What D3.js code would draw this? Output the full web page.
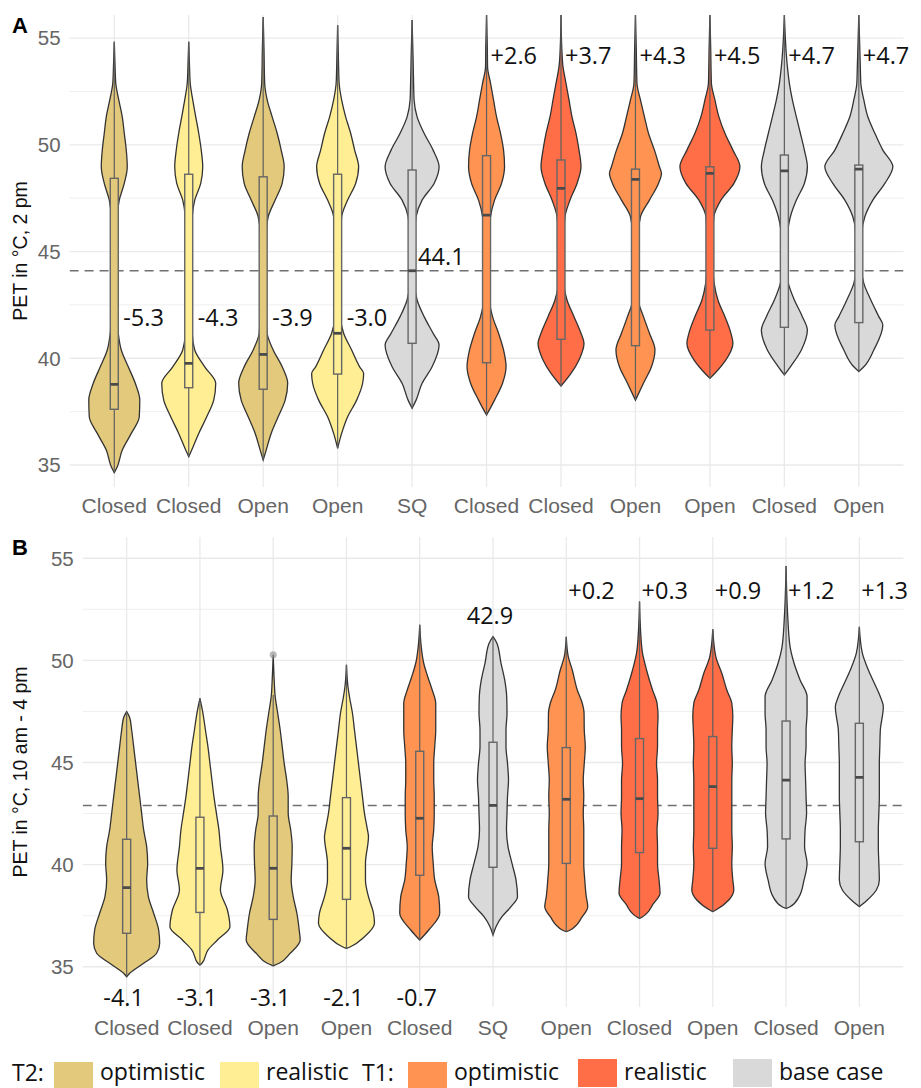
<!DOCTYPE html>
<html>
<head>
<meta charset="utf-8">
<script src="https://cdn.jsdelivr.net/npm/d3@7"></script>
<style>
  body { margin: 0; background: #fff; }
  svg { display: block; }
</style>
</head>
<body>
<div id="chart"></div>
<script>
// fill colour per scenario group
const groupColors = {
  t2opt: "#E3C97B",
  t2real: "#FFEE93",
  t1opt: "#FF9352",
  t1real: "#FF6E47",
  base: "#D9D9D9",
};

const yTicks = [35, 40, 45, 50, 55];
const yMinorTicks = [37.5, 42.5, 47.5, 52.5];

// ---- panel A: PET at 2 pm ----
const aCategories = ["Closed", "Closed", "Open", "Open", "SQ", "Closed", "Closed", "Open", "Open", "Closed", "Open"];
const aGroups = ["t2opt", "t2real", "t2opt", "t2real", "base", "t1opt", "t1real", "t1opt", "t1real", "base", "base"];
const aDiffLabels = ["-5.3", "-4.3", "-3.9", "-3.0", "44.1", "+2.6", "+3.7", "+4.3", "+4.5", "+4.7", "+4.7"];
const aReference = 44.1;
// [min, q1, median, q3, max]
const aBoxes = [
  [34.64, 37.61, 38.78, 48.43, 54.83],
  [35.39, 38.62, 39.76, 48.62, 54.83],
  [35.23, 38.55, 40.18, 48.50, 55.98],
  [35.78, 39.26, 41.17, 48.62, 55.60],
  [37.66, 40.70, 44.10, 48.82, 55.84],
  [37.34, 39.79, 46.71, 49.49, 56.08],
  [38.70, 40.89, 47.96, 49.29, 56.08],
  [38.04, 40.59, 48.38, 48.86, 56.08],
  [39.06, 41.32, 48.66, 48.97, 56.08],
  [39.22, 41.45, 48.78, 49.52, 56.08],
  [39.38, 41.67, 48.86, 49.05, 56.08],
];
// violin profiles: [PET value, relative density]
const aViolins = [
  [[54.83,0],[53.66,0.8],[52.88,1.5],[52.10,4.5],[51.31,8],[50.54,10],[49.75,12],[48.97,13],[48.19,10],[47.41,5],[46.63,3],[45.85,2.5],[44.29,2.5],[42.73,2.5],[41.95,3],[41.17,4],[40.39,7],[39.60,14],[38.83,21],[38.04,25.5],[37.26,25],[36.48,17],[35.70,8],[34.92,3],[34.64,0]],
  [[54.83,0],[53.66,0.8],[52.88,1.5],[52.10,4],[51.31,7],[50.54,10],[49.75,12.5],[48.97,14],[48.19,12],[47.41,6],[46.63,3.5],[45.85,3],[42.73,3],[41.17,3.5],[40.39,6],[39.60,16],[38.83,27],[38.04,25],[37.26,18],[36.48,10],[35.70,3],[35.39,0]],
  [[55.98,0],[54.50,0.8],[52.88,1.5],[52.10,4],[51.31,9],[50.54,14],[49.75,18],[48.97,21],[48.19,19],[47.41,12],[46.63,5],[45.85,3],[42.73,3],[41.95,3],[41.17,4],[40.39,10],[39.60,19],[38.83,24.5],[38.04,22],[37.26,15],[36.48,8],[35.70,3],[35.23,0]],
  [[55.60,0],[54.00,0.8],[52.88,1.5],[52.10,4],[51.31,8],[50.54,13],[49.75,17],[48.97,21],[48.19,18],[47.41,10],[46.63,4],[45.85,3],[42.73,3],[41.95,3],[41.17,6],[40.39,14],[39.60,22],[39.29,26],[38.83,25],[38.04,19],[37.26,10],[36.48,4],[35.78,0]],
  [[55.84,0],[54.00,1],[52.88,1.5],[52.10,2],[51.31,5],[50.54,12],[49.75,21],[48.97,27],[48.19,22],[47.41,10],[46.63,4],[45.85,2.5],[43.50,2.5],[42.73,5],[41.95,12],[41.17,21],[40.62,27],[39.60,20],[38.83,10],[38.04,4],[37.66,0]],
  [[56.08,0],[54.50,0.8],[53.66,1],[52.88,4],[52.10,7],[51.31,10],[50.54,14],[49.75,17],[48.97,18],[48.19,15],[47.41,8],[46.63,4],[45.85,3],[42.73,3],[41.95,6],[41.17,12],[40.39,17],[39.60,19.5],[38.83,16],[38.04,8],[37.34,0]],
  [[56.08,0],[54.50,0.8],[53.66,2],[52.88,5],[52.10,8],[51.31,11],[50.54,15],[49.75,18],[48.97,20],[48.19,16],[47.41,9],[46.63,4],[45.85,3],[43.50,3],[42.73,6],[41.95,13],[41.17,20],[40.70,23],[39.92,18],[39.29,10],[38.70,0]],
  [[56.08,0],[54.50,0.8],[52.88,1.5],[52.10,5],[51.31,9],[50.54,13],[49.75,19],[48.97,24],[48.66,26],[48.19,23],[47.41,14],[46.63,5],[45.85,3],[42.73,3],[41.95,8],[41.17,14],[40.39,19.5],[39.60,16],[38.83,8],[38.04,0]],
  [[56.08,0],[54.50,0.8],[52.88,1.5],[52.10,5],[51.31,9],[50.54,15],[49.75,23],[48.97,30],[48.19,24],[47.41,11],[46.63,4],[45.85,3],[44.29,3],[42.73,8],[41.95,15],[41.17,21],[40.70,23],[39.92,16],[39.45,8],[39.06,0]],
  [[56.08,0],[53.66,3],[52.88,5],[52.10,8],[51.31,12],[50.54,16],[49.75,20],[48.97,23],[48.19,20],[47.41,12],[46.63,6],[45.85,3],[45.07,2],[44.29,2],[43.51,4],[42.73,10],[41.95,18],[41.32,23],[40.39,17],[39.60,6],[39.22,0]],
  [[56.08,0],[53.66,1.5],[52.88,2],[52.10,5],[51.31,9],[50.54,16],[49.75,24],[48.97,34],[48.19,26],[47.41,14],[46.63,6],[45.85,3],[44.29,2.5],[43.51,5],[42.73,12],[41.95,20],[41.56,24],[40.39,15],[39.60,5],[39.38,0]],
];

// ---- panel B: PET 10 am - 4 pm ----
const bCategories = ["Closed", "Closed", "Open", "Open", "Closed", "SQ", "Open", "Closed", "Open", "Closed", "Open"];
const bGroups = ["t2opt", "t2real", "t2opt", "t2real", "t1opt", "base", "t1opt", "t1real", "t1real", "base", "base"];
const bDiffLabels = ["-4.1", "-3.1", "-3.1", "-2.1", "-0.7", "42.9", "+0.2", "+0.3", "+0.9", "+1.2", "+1.3"];
const bReference = 42.9;
const bBoxes = [
  [34.51, 36.64, 38.87, 41.24, 47.49],
  [35.08, 37.66, 39.82, 42.32, 48.14],
  [35.04, 37.32, 39.82, 42.38, 48.30],
  [35.90, 38.30, 40.80, 43.28, 49.78],
  [36.31, 39.48, 42.27, 45.55, 51.74],
  [36.55, 39.87, 42.90, 45.99, 51.16],
  [36.72, 40.06, 43.20, 45.73, 51.16],
  [37.37, 40.59, 43.23, 46.17, 52.88],
  [37.70, 40.80, 43.82, 46.27, 51.52],
  [37.86, 41.26, 44.14, 47.03, 54.62],
  [37.94, 41.12, 44.27, 46.92, 51.65],
];
const bOutliers = [[2, 50.27]];
const bViolins = [
  [[47.49,0],[47.20,3],[46.59,5],[45.78,7],[44.96,9],[44.14,11],[43.33,13],[42.51,15],[41.70,17],[40.88,20],[40.06,21],[39.25,20],[38.43,21.7],[37.62,27],[36.80,32],[36.15,33],[35.66,30],[35.17,17],[34.68,3],[34.51,0]],
  [[48.14,0],[47.41,3],[46.59,5.5],[45.78,8],[44.96,10],[44.14,12],[43.33,14],[42.51,16.5],[41.70,19],[40.88,20.5],[39.74,23],[38.76,20.5],[37.78,27.5],[36.96,30],[36.31,17.5],[35.82,8],[35.17,2],[35.08,0]],
  [[50.27,0],[49.04,1],[48.22,2],[47.57,4],[46.59,7],[45.78,9],[44.96,11],[44.14,13.5],[43.33,15],[42.51,15],[41.70,17.5],[40.88,19],[40.06,18.7],[39.25,18],[38.43,20],[37.62,23.7],[36.80,26],[36.31,27],[35.66,17],[35.17,6],[35.04,0]],
  [[49.78,0],[48.71,1.5],[48.22,3],[47.41,6],[46.59,8],[45.78,10],[44.96,12],[44.14,14],[43.33,16],[42.51,18],[41.70,21],[41.37,22],[40.06,19],[39.25,19],[38.43,22],[37.62,27],[37.13,28],[36.47,18],[35.98,4],[35.90,0]],
  [[51.74,0],[50.67,1.5],[49.86,4],[49.20,8],[48.55,12.5],[47.90,16],[46.59,16],[45.78,15],[44.96,14],[44.14,14],[43.33,14.5],[42.51,14.5],[41.70,14],[40.88,12.5],[40.06,13.5],[39.25,15],[38.43,19],[37.62,20],[36.80,9],[36.31,0]],
  [[51.16,0],[50.83,4],[49.86,8],[49.04,11.7],[48.22,13.7],[47.41,14],[46.59,13],[45.78,13],[44.96,14.5],[44.14,15.5],[43.33,14.5],[42.51,14],[41.70,13.5],[40.88,15],[40.06,19],[39.25,23],[38.43,24.5],[37.94,18],[37.45,9],[36.96,3],[36.55,0]],
  [[51.16,0],[50.18,2],[49.53,6],[48.55,11],[47.90,16],[47.41,17.8],[46.59,18],[45.78,19],[44.96,18],[44.14,17],[43.33,17.5],[42.51,17],[41.70,17.5],[40.88,17.5],[40.06,17.5],[39.25,18.5],[38.43,20],[37.94,21.5],[37.45,16],[36.80,4],[36.72,0]],
  [[52.88,0],[51.49,1],[50.35,3],[49.53,7],[48.55,13],[47.90,17.5],[47.25,18.5],[46.59,18],[45.78,18],[44.96,17],[44.14,18],[43.33,18],[42.51,18.5],[41.70,17.5],[40.88,18],[40.06,18],[39.25,19.5],[38.60,20.5],[38.10,14],[37.45,3],[37.37,0]],
  [[51.52,0],[50.18,3],[49.37,9],[48.55,14],[47.90,19],[47.25,20],[46.59,19.5],[45.78,19],[44.96,19.5],[44.14,19],[43.33,19],[42.51,19],[41.70,19],[40.88,19.5],[40.06,19],[39.25,20],[38.76,21],[38.27,16],[37.78,3],[37.70,0]],
  [[54.62,0],[52.31,1.5],[50.67,4],[49.86,8],[49.04,14],[48.22,21],[47.41,21],[46.59,20],[45.78,20],[44.96,19],[44.14,19.5],[43.33,20],[42.51,20.5],[41.70,19],[40.88,18.5],[40.06,21],[39.25,18],[38.43,13],[37.94,4],[37.86,0]],
  [[51.65,0],[50.35,3],[49.53,9],[48.88,15],[48.22,21],[47.73,24],[46.59,21],[45.78,20.5],[44.96,20],[44.14,20],[43.33,20],[42.51,19.5],[41.70,19],[40.88,19],[40.06,19.5],[39.25,20],[38.76,17],[38.27,8],[38.02,2],[37.94,0]],
];

const legendItems = [
  { head: "T2:", key: "t2opt", label: "optimistic" },
  { key: "t2real", label: "realistic" },
  { head: "T1:", key: "t1opt", label: "optimistic" },
  { key: "t1real", label: "realistic" },
  { key: "base", label: "base case" },
];

const W = 921, H = 1088;
const svg = d3.select("#chart").append("svg").attr("width", W).attr("height", H);

const tickFont = "'Liberation Sans', Arial, sans-serif";
const labelFont = "'Open Sans', 'Noto Sans', sans-serif";

function drawPanel(p) {
  const g = svg.append("g");
  const x = d3.scalePoint().domain(d3.range(p.categories.length)).range([p.left, p.right]).padding(0.6);
  const y = d3.scaleLinear().domain(p.yDomain).range([p.bottom, p.top]);
  const w = d3.scaleLinear().domain([0, 30]).range([0, 30]);

  const clipId = "clip-" + p.letter;
  svg.append("clipPath").attr("id", clipId)
    .append("rect").attr("x", p.left).attr("y", p.top)
    .attr("width", p.right - p.left).attr("height", p.bottom - p.top);

  // grid
  g.append("g").selectAll("line").data(yMinorTicks).enter().append("line")
    .attr("x1", p.left).attr("x2", p.right)
    .attr("y1", d => y(d)).attr("y2", d => y(d))
    .attr("stroke", "#EFEFEF").attr("stroke-width", 1);
  g.append("g").selectAll("line").data(yTicks).enter().append("line")
    .attr("x1", p.left).attr("x2", p.right)
    .attr("y1", d => y(d)).attr("y2", d => y(d))
    .attr("stroke", "#EAEAEA").attr("stroke-width", 1.3);
  g.append("g").selectAll("line").data(x.domain()).enter().append("line")
    .attr("x1", d => x(d)).attr("x2", d => x(d))
    .attr("y1", p.top).attr("y2", p.bottom)
    .attr("stroke", "#EAEAEA").attr("stroke-width", 1.3);

  // y axis labels
  g.append("g").selectAll("text").data(yTicks).enter().append("text")
    .attr("x", p.left - 9).attr("y", d => y(d)).attr("dy", "0.36em")
    .attr("text-anchor", "end")
    .style("font-family", tickFont).style("font-size", "20.5px").style("fill", "#666")
    .text(d => d);

  // x axis labels
  g.append("g").selectAll("text").data(p.categories).enter().append("text")
    .attr("x", (d, i) => x(i)).attr("y", p.xLabelY).attr("dy", "0.36em")
    .attr("text-anchor", "middle")
    .style("font-family", tickFont).style("font-size", "21px").style("fill", "#666")
    .text(d => d);

  // y title
  g.append("text")
    .attr("transform", `translate(20,${(p.top + p.bottom) / 2}) rotate(-90)`)
    .attr("dy", "0.36em").attr("text-anchor", "middle")
    .style("font-family", tickFont).style("font-size", "19.5px").style("fill", "#111")
    .text(p.yTitle);

  // panel letter
  g.append("text").attr("x", 12).attr("y", p.letterY)
    .style("font-family", tickFont).style("font-size", "22px").style("font-weight", "bold")
    .style("fill", "#000").text(p.letter);

  const marks = g.append("g").attr("clip-path", `url(#${clipId})`);

  // dashed reference
  marks.append("line")
    .attr("x1", p.left).attr("x2", p.right)
    .attr("y1", y(p.reference)).attr("y2", y(p.reference))
    .attr("stroke", "#707070").attr("stroke-width", 1.5).attr("stroke-dasharray", "9,6");

  // violins
  p.violins.forEach((prof, i) => {
    const cx = x(i);
    const area = d3.area()
      .y(d => y(d[0]))
      .x0(d => cx - w(d[1]))
      .x1(d => cx + w(d[1]))
      .curve(d3.curveMonotoneY);
    marks.append("path").datum(prof)
      .attr("d", area)
      .attr("fill", groupColors[p.groups[i]])
      .attr("stroke", "#333").attr("stroke-width", 1.3);
  });

  // boxplots
  const bw = 8;
  p.boxes.forEach((b, i) => {
    const cx = x(i);
    const bg = marks.append("g");
    bg.append("line").attr("x1", cx).attr("x2", cx)
      .attr("y1", y(b[0])).attr("y2", y(b[4]))
      .attr("stroke", "#5f5f5f").attr("stroke-width", 1.2);
    bg.append("rect")
      .attr("x", cx - bw / 2).attr("width", bw)
      .attr("y", y(b[3])).attr("height", y(b[1]) - y(b[3]))
      .attr("fill", groupColors[p.groups[i]])
      .attr("stroke", "#666").attr("stroke-width", 1.4);
    bg.append("line").attr("x1", cx - bw / 2).attr("x2", cx + bw / 2)
      .attr("y1", y(b[2])).attr("y2", y(b[2]))
      .attr("stroke", "#4a4a4a").attr("stroke-width", 2.8);
  });

  (p.outliers || []).forEach(o => {
    marks.append("circle").attr("cx", x(o[0])).attr("cy", y(o[1])).attr("r", 3.6)
      .attr("fill", "#8a8a8a").attr("fill-opacity", 0.6);
  });

  // difference labels
  g.append("g").selectAll("text").data(p.diffLabels).enter().append("text")
    .each(function (d, i) {
      const pos = p.labelPos(d, i, x, y);
      d3.select(this).attr("x", pos.x).attr("y", pos.y).attr("dy", "0.36em")
        .attr("text-anchor", pos.anchor);
    })
    .style("font-family", labelFont).style("font-size", "23.5px").style("fill", "#111")
    .text(d => d);
}

drawPanel({
  letter: "A", letterY: 33,
  categories: aCategories, groups: aGroups, violins: aViolins, boxes: aBoxes,
  diffLabels: aDiffLabels, reference: aReference,
  left: 69.6, right: 903.5, top: 15, bottom: 487,
  yDomain: [33.97, 56.08], xLabelY: 505,
  yTitle: "PET in °C, 2 pm",
  labelPos: (d, i, x, y) => {
    if (d[0] === "-") return { x: x(i) + 9, y: y(41.9), anchor: "start" };
    if (d[0] === "+") return { x: x(i) + 4, y: y(54.2), anchor: "start" };
    return { x: x(i) + 6, y: y(44.75), anchor: "start" };
  },
});

drawPanel({
  letter: "B", letterY: 555,
  categories: bCategories, groups: bGroups, violins: bViolins, boxes: bBoxes,
  outliers: bOutliers, diffLabels: bDiffLabels, reference: bReference,
  left: 82.7, right: 903.3, top: 537, bottom: 1007,
  yDomain: [33.03, 56.04], xLabelY: 1027,
  yTitle: "PET in °C, 10 am - 4 pm",
  labelPos: (d, i, x, y) => {
    if (d[0] === "-") return { x: x(i) - 3, y: y(33.5), anchor: "middle" };
    if (d[0] === "+") return { x: x(i) + 2, y: y(53.4), anchor: "start" };
    return { x: x(i) - 3, y: y(52.18), anchor: "middle" };
  },
});

// legend
const legend = svg.append("g");
const swatchX = [54, 220, 408, 578, 733];
const headX = [12, null, 362, null, null];
legendItems.forEach((it, i) => {
  const low = i < 3;
  const sy = low ? 1062 : 1059, sh = low ? 26 : 28;
  const base = 1080;
  if (it.head) {
    legend.append("text").attr("x", headX[i]).attr("y", base + 1)
      .style("font-family", labelFont).style("font-size", "23px").style("fill", "#111")
      .text(it.head);
  }
  legend.append("rect").attr("x", swatchX[i]).attr("y", sy)
    .attr("width", 39).attr("height", sh).attr("fill", groupColors[it.key]);
  legend.append("text").attr("x", swatchX[i] + 46).attr("y", base)
    .style("font-family", labelFont).style("font-size", "23px").style("fill", "#111")
    .text(it.label);
});
</script>
</body>
</html>
